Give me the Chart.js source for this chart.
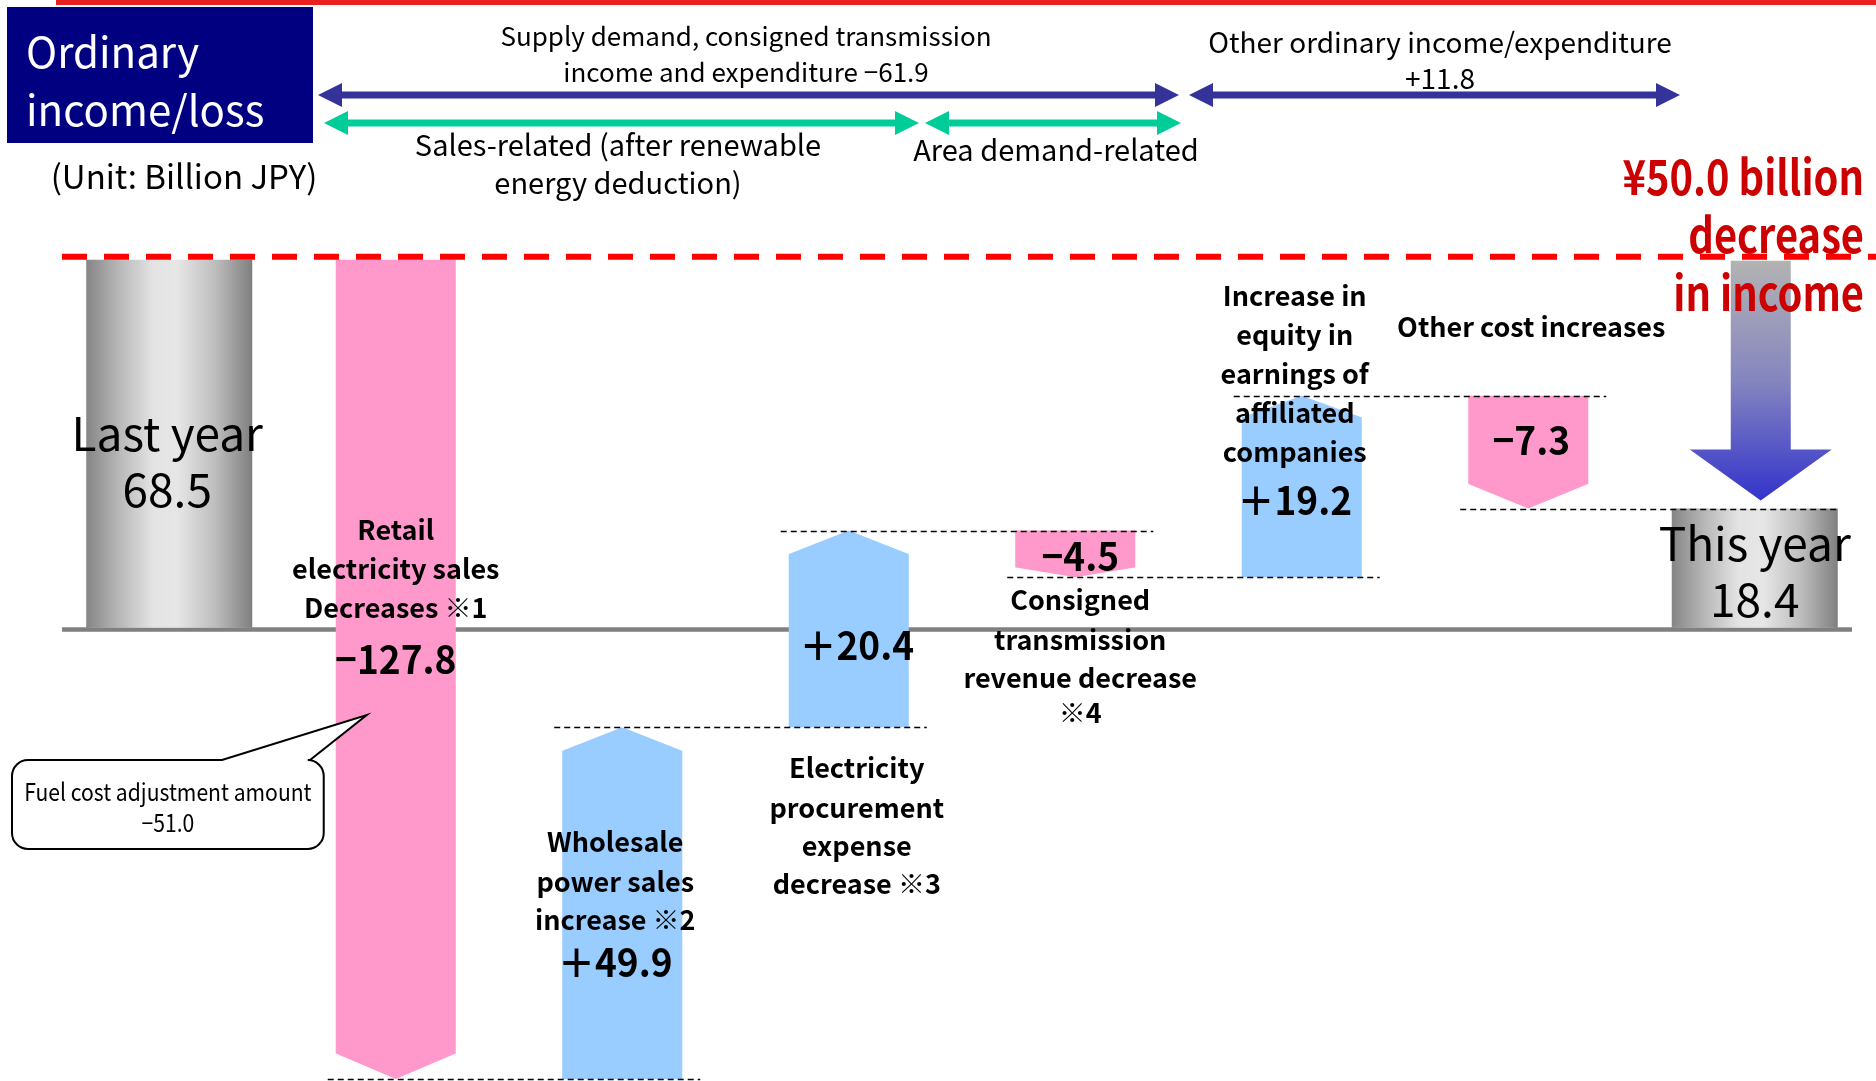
<!DOCTYPE html>
<html>
<head>
<meta charset="utf-8">
<title>Ordinary income/loss</title>
<script src="https://cdn.jsdelivr.net/npm/chart.js@4.4.1/dist/chart.umd.min.js"></script>
<style>
    html, body { margin: 0; padding: 0; background: #fff; }
    #wrap { position: relative; width: 1876px; height: 1081px; }
</style>
</head>
<body>
<div id="wrap"><canvas id="bridge-chart"></canvas></div>
<script>
(function () {
    const FONT = '"Noto Sans CJK JP", "Noto Sans", sans-serif';

    // ---- data (Billion JPY) ----
    const categories = [
        'Last year',
        'Retail electricity sales decreases',
        'Wholesale power sales increase',
        'Electricity procurement expense decrease',
        'Consigned transmission revenue decrease',
        'Increase in equity in earnings of affiliated companies',
        'Other cost increases',
        'This year'
    ];
    const totals = [68.5, null, null, null, null, null, null, 18.4];
    const changes = [null, -127.8, 49.9, 20.4, -4.5, 19.2, -7.3, null];
    // the slide is not drawn to scale: bar extents as they appear on it
    const drawnFrom = [0, 68.5, -84.0, -18.5, 18.1, 9.4, 43.2, 0];
    const drawnTo = [68.5, -84.0, -18.5, 18.1, 9.4, 43.2, 22.2, 22.2];
    const barLabels = [
        ['Last year'],
        ['Retail', 'electricity sales', 'Decreases ※1'],
        ['Wholesale', 'power sales', 'increase ※2'],
        ['Electricity', 'procurement', 'expense', 'decrease ※3'],
        ['Consigned', 'transmission', 'revenue decrease', '※4'],
        ['Increase in', 'equity in', 'earnings of', 'affiliated', 'companies'],
        ['Other cost increases'],
        ['This year']
    ];
    const groupLabels = [
        ['Supply demand, consigned transmission', 'income and expenditure −61.9'],
        ['Other ordinary income/expenditure', '+11.8'],
        ['Sales-related (after renewable', 'energy deduction)'],
        ['Area demand-related']
    ];
    const fuelCostNote = ['Fuel cost adjustment amount', '−51.0'];
    const headline = ['¥50.0 billion', 'decrease', 'in income'];

    // ---- styles ----
    const PINK = '#ff99cc';
    const BLUE = '#99ccff';
    const NAVY = '#333399';
    const GREEN = '#00cc99';
    const TOTAL_PCT = 0.733;
    const CHANGE_PCT = 0.53;
    const tipDepth = [0, 26, 24, 24, 10, 22, 25, 0];
    const labelSpots = [
        { dx: -2, lines: [434], value: 490 },
        { dx: 0, lines: [530, 569, 608], value: 659 },
        { dx: -7, lines: [842, 882, 920], value: 962 },
        { dx: 8, lines: [768, 808, 846, 884], value: 645 },
        { dx: 5, lines: [600, 640, 678, 713], value: 556 },
        { dx: -7, lines: [296, 335, 374, 413, 452], value: 500 },
        { dx: 3, lines: [327], value: 440 },
        { dx: 0, lines: [544], value: 600 }
    ];

    const fmtChange = (v) => (v < 0 ? '−' : '＋') + Math.abs(v).toFixed(1);

    // sx < 1 narrows the glyphs to imitate the slide's condensed gothic
    const text = (ctx, str, x, y, font, color, align, sx) => {
        ctx.save();
        ctx.translate(x, y);
        ctx.scale(sx || 1, 1);
        ctx.font = font;
        ctx.fillStyle = color;
        ctx.textAlign = align || 'center';
        ctx.textBaseline = 'middle';
        ctx.fillText(str, 0, 0);
        ctx.restore();
    };

    const doubleArrow = (ctx, x1, x2, y, color) => {
        const head = 24, hh = 12, sh = 3.5;
        ctx.fillStyle = color;
        ctx.beginPath();
        ctx.moveTo(x1, y);
        ctx.lineTo(x1 + head, y - hh);
        ctx.lineTo(x1 + head, y - sh);
        ctx.lineTo(x2 - head, y - sh);
        ctx.lineTo(x2 - head, y - hh);
        ctx.lineTo(x2, y);
        ctx.lineTo(x2 - head, y + hh);
        ctx.lineTo(x2 - head, y + sh);
        ctx.lineTo(x1 + head, y + sh);
        ctx.lineTo(x1 + head, y + hh);
        ctx.closePath();
        ctx.fill();
    };

    const barEdges = (chart, i) => {
        const ds = totals[i] != null ? 0 : 1;
        const bar = chart.getDatasetMeta(ds).data[i];
        return { x: bar.x, left: bar.x - bar.width / 2, right: bar.x + bar.width / 2 };
    };

    const grayFill = (c) => {
        const chart = c.chart;
        const area = chart.chartArea;
        if (!area) return '#b0b0b0';
        const x = chart.scales.x.getPixelForValue(c.dataIndex);
        const half = (area.right - area.left) / categories.length * TOTAL_PCT / 2;
        const g = chart.ctx.createLinearGradient(x - half, 0, x + half, 0);
        g.addColorStop(0, '#858585');
        g.addColorStop(0.2, '#b8b8b8');
        g.addColorStop(0.4, '#e3e3e3');
        g.addColorStop(0.55, '#e6e6e6');
        g.addColorStop(0.78, '#bdbdbd');
        g.addColorStop(1, '#7f7f7f');
        return g;
    };

    const slidePlugin = {
        id: 'slide',
        beforeDatasetsDraw(chart) {
            const { ctx, scales: { y } } = chart;
            const y0 = y.getPixelForValue(0);
            ctx.save();
            ctx.fillStyle = '#808080';
            ctx.fillRect(62, y0 - 0.5, 1790, 4.5);
            ctx.restore();
        },
        // cut the change bars into chevron arrows
        beforeDatasetDraw(chart, args) {
            if (args.index !== 1) return;
            const { ctx, scales: { y } } = chart;
            const meta = chart.getDatasetMeta(1);
            ctx.save();
            ctx.beginPath();
            changes.forEach((v, i) => {
                if (v == null) return;
                const bar = meta.data[i];
                const l = bar.x - bar.width / 2 - 1, r = bar.x + bar.width / 2 + 1;
                const tail = y.getPixelForValue(drawnFrom[i]);
                const tip = y.getPixelForValue(drawnTo[i]);
                const dir = tip < tail ? 1 : -1;
                const shoulder = tip + dir * tipDepth[i];
                ctx.moveTo(l, tail + dir * 2);
                ctx.lineTo(r, tail + dir * 2);
                ctx.lineTo(r, shoulder);
                ctx.lineTo(bar.x, tip);
                ctx.lineTo(l, shoulder);
                ctx.closePath();
            });
            ctx.clip();
        },
        afterDatasetDraw(chart, args) {
            if (args.index === 1) chart.ctx.restore();
        },
        afterDatasetsDraw(chart) {
            const { ctx, scales: { y } } = chart;
            ctx.save();

            // connectors between steps
            ctx.strokeStyle = '#000';
            ctx.lineWidth = 1.5;
            ctx.setLineDash([6, 4]);
            for (let i = 1; i < categories.length - 1; i++) {
                const a = barEdges(chart, i);
                const b = barEdges(chart, i + 1);
                const py = Math.round(y.getPixelForValue(drawnTo[i])) + 0.5;
                ctx.beginPath();
                ctx.moveTo(a.left - 8, py);
                ctx.lineTo(b.right + (i + 1 === categories.length - 1 ? 0 : 18), py);
                ctx.stroke();
            }

            // red dashed reference at last year's level
            const yLast = y.getPixelForValue(totals[0]) - 3;
            ctx.strokeStyle = '#ff0000';
            ctx.lineWidth = 6;
            ctx.setLineDash([25, 17]);
            ctx.beginPath();
            ctx.moveTo(62, yLast);
            ctx.lineTo(1876, yLast);
            ctx.stroke();
            ctx.setLineDash([]);

            // big arrow down onto this year
            const ty = barEdges(chart, 7);
            const tipY = y.getPixelForValue(drawnTo[7]) - 8;
            const topY = yLast + 4;
            const ax = ty.x + 6;
            const g = ctx.createLinearGradient(0, topY, 0, tipY);
            g.addColorStop(0, '#b3b3b3');
            g.addColorStop(0.5, '#8585c0');
            g.addColorStop(1, '#3333cc');
            ctx.fillStyle = g;
            ctx.beginPath();
            ctx.moveTo(ax - 30, topY);
            ctx.lineTo(ax + 30, topY);
            ctx.lineTo(ax + 30, tipY - 51);
            ctx.lineTo(ax + 71, tipY - 51);
            ctx.lineTo(ax, tipY);
            ctx.lineTo(ax - 71, tipY - 51);
            ctx.lineTo(ax - 30, tipY - 51);
            ctx.closePath();
            ctx.fill();

            // bar captions
            labelSpots.forEach((spot, i) => {
                const cx = barEdges(chart, i).x + spot.dx;
                if (totals[i] != null) {
                    text(ctx, barLabels[i][0], cx, spot.lines[0], '46px ' + FONT, '#000');
                    text(ctx, totals[i].toFixed(1), cx, spot.value, '46px ' + FONT, '#000');
                    return;
                }
                barLabels[i].forEach((line, k) => {
                    text(ctx, line, cx, spot.lines[k], 'bold 27px ' + FONT, '#000');
                });
                text(ctx, fmtChange(changes[i]), cx, spot.value, 'bold 39px ' + FONT, '#000', 'center', 0.95);
            });

            // fuel cost callout on the retail bar
            const rb = barEdges(chart, 1);
            const bx = 12, by = 760, bw = Math.min(357, rb.left - 12 - bx), bh = 89, r = 16;
            const tip = { x: rb.x - 29, y: 715 };
            ctx.beginPath();
            ctx.moveTo(bx + r, by);
            ctx.lineTo(222, by);
            ctx.lineTo(tip.x, tip.y);
            ctx.lineTo(310, by);
            ctx.lineTo(bx + bw - r, by);
            ctx.arcTo(bx + bw, by, bx + bw, by + r, r);
            ctx.lineTo(bx + bw, by + bh - r);
            ctx.arcTo(bx + bw, by + bh, bx + bw - r, by + bh, r);
            ctx.lineTo(bx + r, by + bh);
            ctx.arcTo(bx, by + bh, bx, by + bh - r, r);
            ctx.lineTo(bx, by + r);
            ctx.arcTo(bx, by, bx + r, by, r);
            ctx.closePath();
            ctx.fillStyle = '#fff';
            ctx.fill();
            ctx.strokeStyle = '#000';
            ctx.lineWidth = 2;
            ctx.stroke();
            text(ctx, fuelCostNote[0], bx + bw / 2, 792, '24px ' + FONT, '#000', 'center', 0.88);
            text(ctx, fuelCostNote[1], bx + bw / 2, 823, '24px ' + FONT, '#000', 'center', 0.88);

            // headline
            headline.forEach((line, k) => {
                text(ctx, line, 1864, 177 + k * 58, 'bold 48px ' + FONT, '#cc0000', 'right', 0.83);
            });

            // header: red rule, title box, unit
            ctx.fillStyle = '#e82020';
            ctx.fillRect(56, 0, 1820, 5);
            ctx.fillStyle = '#000080';
            ctx.fillRect(7, 7, 306, 136);
            text(ctx, 'Ordinary', 26, 52, '42px ' + FONT, '#fff', 'left');
            text(ctx, 'income/loss', 26, 110, '42px ' + FONT, '#fff', 'left');
            text(ctx, '(Unit: Billion JPY)', 184, 176, '33px ' + FONT, '#000');

            // group spans
            doubleArrow(ctx, 318, 1179, 95, NAVY);
            doubleArrow(ctx, 1189, 1680, 95, NAVY);
            doubleArrow(ctx, 324, 919, 123, GREEN);
            doubleArrow(ctx, 925, 1181, 123, GREEN);
            text(ctx, groupLabels[0][0], 746, 36, '26px ' + FONT, '#000');
            text(ctx, groupLabels[0][1], 746, 72, '26px ' + FONT, '#000');
            text(ctx, groupLabels[1][0], 1440, 42, '28px ' + FONT, '#000');
            text(ctx, groupLabels[1][1], 1440, 78, '28px ' + FONT, '#000');
            text(ctx, groupLabels[2][0], 618, 145, '29px ' + FONT, '#000');
            text(ctx, groupLabels[2][1], 618, 183, '29px ' + FONT, '#000');
            text(ctx, groupLabels[3][0], 1056, 150, '29px ' + FONT, '#000');

            ctx.restore();
        }
    };

    document.addEventListener('DOMContentLoaded', () => {
        const el = document.getElementById('bridge-chart');
        new Chart(el, {
            type: 'bar',
            data: {
                labels: categories,
                datasets: [
                    {
                        label: 'Ordinary income',
                        data: totals.map((v, i) => (v == null ? null : [drawnFrom[i], drawnTo[i]])),
                        backgroundColor: grayFill,
                        barPercentage: TOTAL_PCT,
                        categoryPercentage: 1,
                        grouped: false
                    },
                    {
                        label: 'Change',
                        data: changes.map((v, i) => (v == null ? null : [drawnFrom[i], drawnTo[i]])),
                        backgroundColor: changes.map((v) => (v < 0 ? PINK : BLUE)),
                        barPercentage: CHANGE_PCT,
                        categoryPercentage: 1,
                        grouped: false
                    }
                ]
            },
            options: {
                responsive: true,
                maintainAspectRatio: false,
                animation: false,
                layout: { padding: { left: 56, right: 8, top: 241, bottom: 2 } },
                scales: {
                    x: { display: false },
                    y: { display: false, min: -84, max: 72 }
                },
                plugins: {
                    legend: { display: false },
                    tooltip: { enabled: false }
                }
            },
            plugins: [slidePlugin]
        });
    });
})();
</script>
</body>
</html>
